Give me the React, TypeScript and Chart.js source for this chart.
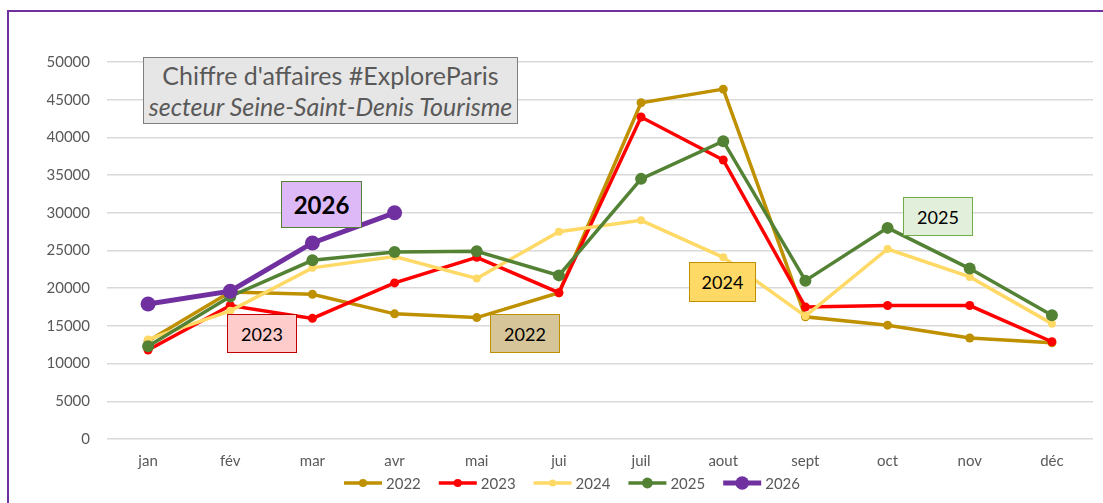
import React, { useEffect, useRef } from "react";
import { Chart, registerables } from "chart.js";

Chart.register(...registerables);

const months = ["jan", "fév", "mar", "avr", "mai", "jui", "juil", "aout", "sept", "oct", "nov", "déc"];
const yTicks = [0, 5000, 10000, 15000, 20000, 25000, 30000, 35000, 40000, 45000, 50000];

const v2022 = [13000, 19500, 19200, 16600, 16100, 19400, 44600, 46400, 16200, 15100, 13400, 12750];
const v2023 = [11800, 17700, 16000, 20700, 24100, 19400, 42700, 37000, 17500, 17700, 17700, 12900];
const v2024 = [13200, 17000, 22700, 24200, 21300, 27500, 29000, 24100, 16300, 25200, 21500, 15300];
const v2025 = [12300, 18900, 23700, 24800, 24900, 21700, 34500, 39500, 21000, 28000, 22600, 16400];
const v2026 = [17900, 19600, 26000, 30000];

const seriesNames = ["2022", "2023", "2024", "2025", "2026"];
const seriesColors = ["#BF9000", "#FF0000", "#FFD966", "#548235", "#7030A0"];
const seriesWidths = [3.5, 3.5, 3.5, 3.5, 5];
const seriesRadii = [4.5, 4.5, 4, 6, 7.5];
const seriesData = [v2022, v2023, v2024, v2025, v2026];

const FONT = "Lato, 'Open Sans', sans-serif";

const legendPlugin = {
  id: "lineDotLegend",
  afterDraw(chart: any) {
    const ctx = chart.ctx;
    ctx.save();
    ctx.font = `15px ${FONT}`;
    const markW = 38;
    const gap = 4;
    const itemGap = 18;
    const widths = seriesNames.map((n) => markW + gap + ctx.measureText(n).width);
    const total = widths.reduce((a, b) => a + b, 0) + itemGap * (seriesNames.length - 1);
    let x = 572 - total / 2;
    const y = 483;
    seriesNames.forEach((n, i) => {
      ctx.strokeStyle = seriesColors[i];
      ctx.lineWidth = seriesWidths[i];
      ctx.beginPath();
      ctx.moveTo(x, y);
      ctx.lineTo(x + markW, y);
      ctx.stroke();
      ctx.fillStyle = seriesColors[i];
      ctx.beginPath();
      ctx.arc(x + markW / 2, y, seriesRadii[i] * 0.9, 0, Math.PI * 2);
      ctx.fill();
      ctx.fillStyle = "#595959";
      ctx.textBaseline = "middle";
      ctx.textAlign = "left";
      ctx.fillText(n, x + markW + gap, y + 1);
      x += widths[i] + itemGap;
    });
    ctx.restore();
  },
};

const boxBase: React.CSSProperties = {
  position: "absolute",
  boxSizing: "border-box",
  display: "flex",
  alignItems: "center",
  justifyContent: "center",
  fontFamily: FONT,
  color: "#000",
};

export default function App() {
  const ref = useRef<HTMLCanvasElement | null>(null);

  useEffect(() => {
    if (!ref.current) return;
    const chart = new Chart(ref.current, {
      type: "line",
      data: {
        labels: months,
        datasets: seriesNames.map((n, i) => ({
          label: n,
          data: seriesData[i],
          borderColor: seriesColors[i],
          backgroundColor: seriesColors[i],
          pointBackgroundColor: seriesColors[i],
          pointBorderColor: seriesColors[i],
          borderWidth: seriesWidths[i],
          pointRadius: seriesRadii[i],
          pointBorderWidth: 0,
          tension: 0,
          fill: false,
          order: seriesNames.length - i,
        })),
      },
      options: {
        responsive: false,
        animation: false,
        layout: { padding: { left: 0, right: 10, top: 62, bottom: 0 } },
        plugins: {
          legend: { display: false },
          title: { display: false },
          tooltip: { enabled: false },
        },
        scales: {
          x: {
            type: "category",
            offset: true,
            grid: { display: false, drawTicks: false },
            border: { display: false },
            ticks: { color: "#595959", font: { family: FONT, size: 15 }, padding: 13, autoSkip: false, maxRotation: 0 },
            afterFit: (s: any) => {
              s.height = 64;
            },
          },
          y: {
            min: 0,
            max: 50000,
            afterBuildTicks: (s: any) => {
              s.ticks = yTicks.map((v) => ({ value: v }));
            },
            grid: { color: "#D9D9D9", lineWidth: 1.5, drawTicks: false },
            border: { display: false },
            ticks: {
              color: "#595959",
              font: { family: FONT, size: 15 },
              padding: 17,
              callback: (v: any) => String(v),
            },
            afterFit: (s: any) => {
              s.width = 107;
            },
          },
        },
      },
      plugins: [legendPlugin],
    });
    return () => chart.destroy();
  }, []);

  return (
    <div style={{ position: "fixed", left: 0, top: 0, width: 1103, height: 503, overflow: "hidden", background: "#fff" }}>
      <canvas ref={ref} width={1103} height={503} style={{ position: "absolute", left: 0, top: 0 }} />
      <div
        style={{
          position: "absolute",
          left: 7,
          top: 10,
          width: 1200,
          height: 600,
          borderTop: "2px solid #7030A0",
          borderLeft: "2px solid #7030A0",
          pointerEvents: "none",
        }}
      />
      <div
        style={{
          ...boxBase,
          left: 143,
          top: 57,
          width: 375,
          height: 67,
          background: "#E7E6E6",
          border: "1px solid #7F7F7F",
          flexDirection: "column",
          color: "#595959",
          fontSize: 25,
          lineHeight: "31px",
          whiteSpace: "nowrap",
        }}
      >
        <div>Chiffre d'affaires #ExploreParis</div>
        <div style={{ fontStyle: "italic" }}>secteur Seine-Saint-Denis Tourisme</div>
      </div>
      <div style={{ ...boxBase, left: 281, top: 181, width: 81, height: 47, background: "#DDB9F8", border: "1.5px solid #548235", fontSize: 24, fontWeight: 700 }}>2026</div>
      <div style={{ ...boxBase, left: 227, top: 314, width: 70, height: 39, background: "#FFCCCC", border: "1.5px solid #C00000", fontSize: 18 }}>2023</div>
      <div style={{ ...boxBase, left: 490, top: 314, width: 70, height: 39, background: "#D6C598", border: "1.5px solid #BF9000", fontSize: 18 }}>2022</div>
      <div style={{ ...boxBase, left: 689, top: 262, width: 67, height: 40, background: "#FFD966", border: "1.5px solid #BF9000", fontSize: 18 }}>2024</div>
      <div style={{ ...boxBase, left: 903, top: 197, width: 70, height: 39, background: "#E2EFDA", border: "1.5px solid #70AD47", fontSize: 18 }}>2025</div>
    </div>
  );
}
